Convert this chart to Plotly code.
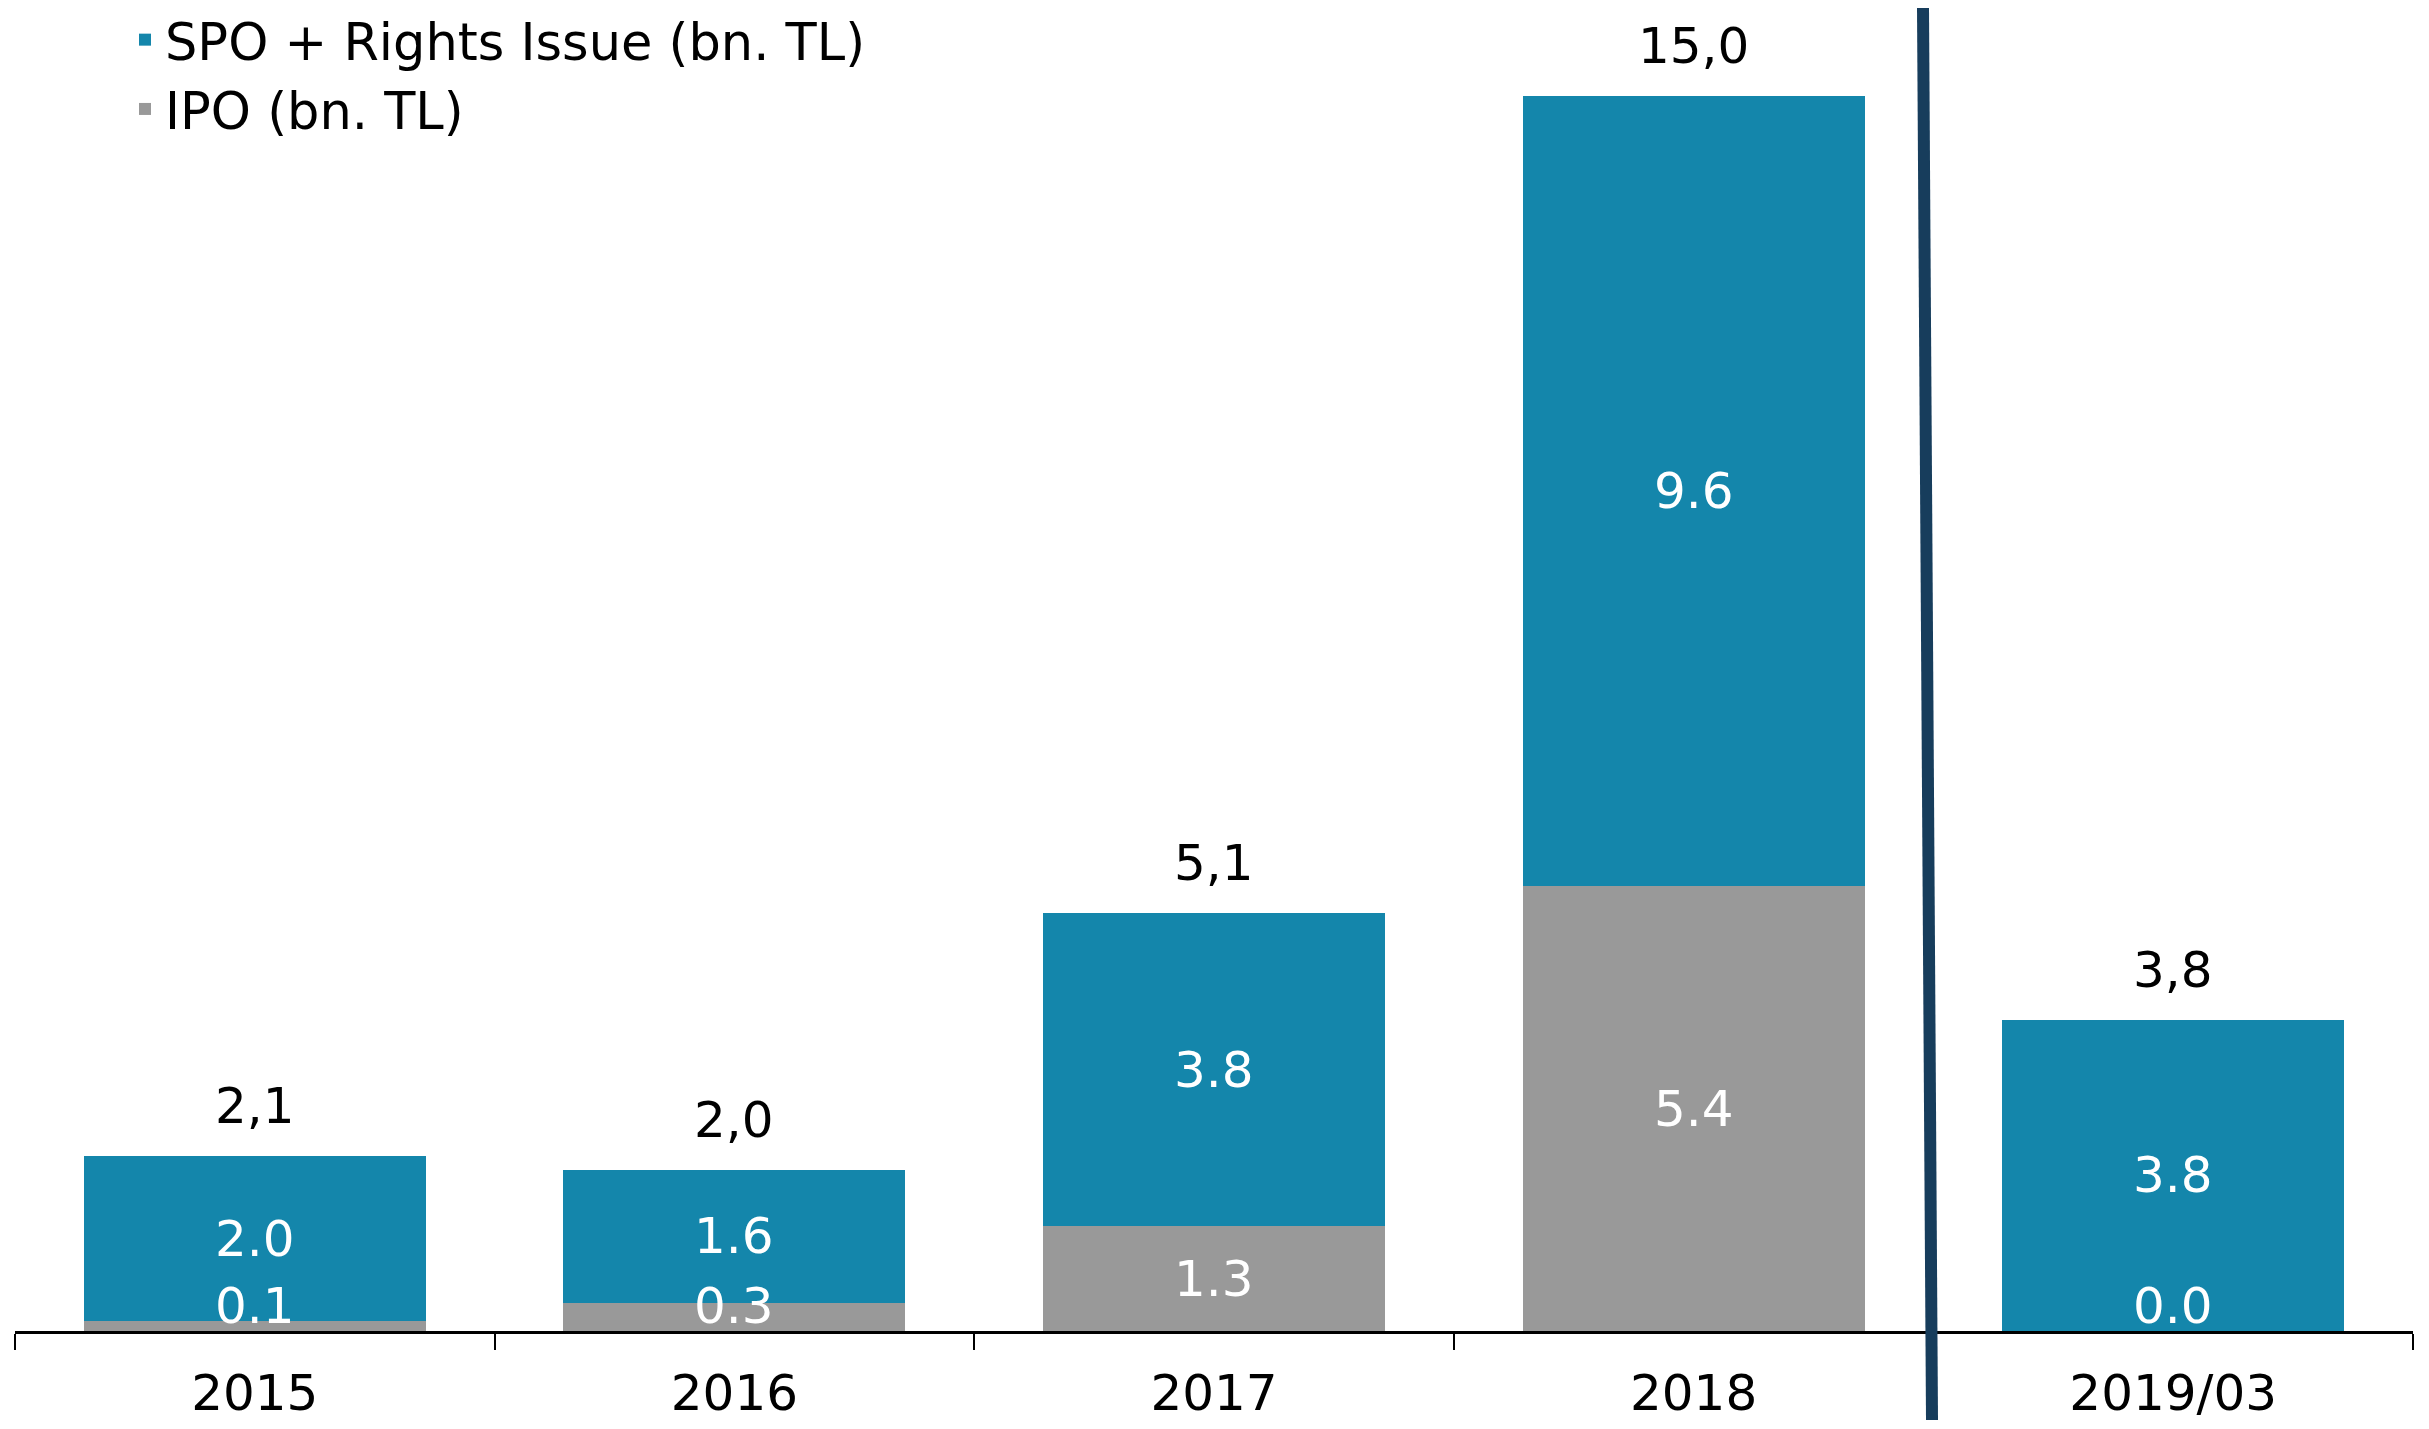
import plotly.graph_objects as go

# ---- data ----
categories = ["2015", "2016", "2017", "2018", "2019/03"]
ipo_values = [0.12, 0.34, 1.27, 5.40, 0.0]      # IPO (bn. TL)
spo_values = [2.00, 1.62, 3.80, 9.60, 3.78]     # SPO + Rights Issue (bn. TL)
ipo_name = "IPO (bn. TL)"
spo_name = "SPO + Rights Issue (bn. TL)"

# ---- style ----
TEAL = "#1486AB"
GRAY = "#999999"
NAVY = "#173D5C"
FONT = "Verdana, DejaVu Sans, sans-serif"
FS = 50

PAGE_OFF = 8                     # default body margin of the html page
W, H = 2429 - 2 * PAGE_OFF, 1429 - 2 * PAGE_OFF
ML, MR, MT, MB = 7, 8, 12, 90
plot_h = H - MT - MB
y_top = 15.92

fig = go.Figure()
fig.add_trace(go.Bar(x=categories, y=ipo_values, name=ipo_name,
                     marker=dict(color=GRAY, line=dict(width=0)),
                     hoverinfo="x+y"))
fig.add_trace(go.Bar(x=categories, y=spo_values, name=spo_name,
                     marker=dict(color=TEAL, line=dict(width=0)),
                     hoverinfo="x+y"))

annotations = []
min_mid = 0.30
for i, cat in enumerate(categories):
    ipo = ipo_values[i]
    spo = spo_values[i]
    total = ipo + spo
    # segment labels (white, centred in segment, kept off the axis)
    annotations.append(dict(x=i, y=max(ipo / 2, min_mid), xref="x", yref="y",
                            text=f"{ipo:.1f}", showarrow=False, yanchor="middle",
                            font=dict(color="white", size=FS, family=FONT)))
    annotations.append(dict(x=i, y=ipo + spo / 2, xref="x", yref="y",
                            text=f"{spo:.1f}", showarrow=False, yanchor="middle",
                            font=dict(color="white", size=FS, family=FONT)))
    # total label above the bar, decimal comma
    annotations.append(dict(x=i, y=total, xref="x", yref="y",
                            text=f"{total:.1f}".replace(".", ","), showarrow=False,
                            yanchor="middle", yshift=50,
                            font=dict(color="black", size=FS, family=FONT)))

# helpers: screen pixel -> paper coordinates
def px_to_paper_x(px):
    return (px - PAGE_OFF - ML) / (W - ML - MR)

def px_to_paper_y(py):
    return (H - MB - (py - PAGE_OFF)) / plot_h

# separator line between 2018 and 2019/03 (slightly slanted, beyond plot area)
shapes = [dict(type="line", xref="paper", yref="paper",
               x0=px_to_paper_x(1932), y0=px_to_paper_y(1420),
               x1=px_to_paper_x(1923), y1=px_to_paper_y(8),
               line=dict(color=NAVY, width=12), layer="above")]

fig.update_layout(
    width=W, height=H,
    margin=dict(l=ML, r=MR, t=MT, b=MB, autoexpand=False),
    barmode="stack", bargap=0.287,
    plot_bgcolor="white", paper_bgcolor="white",
    font=dict(family=FONT, size=FS, color="black"),
    showlegend=True,
    legend=dict(x=px_to_paper_x(125), y=px_to_paper_y(0), xanchor="left", yanchor="top",
                traceorder="reversed", font=dict(size=51, family=FONT, color="black"),
                bgcolor="rgba(0,0,0,0)", itemclick=False, itemdoubleclick=False),
    annotations=annotations,
    shapes=shapes,
    xaxis=dict(type="category", categoryorder="array", categoryarray=categories,
               range=[-0.5, len(categories) - 0.5],
               showline=True, linecolor="black", linewidth=3,
               ticks="outside", tickson="boundaries", ticklen=16, tickwidth=2,
               tickcolor="black", showgrid=False, zeroline=False, tickangle=0,
               tickfont=dict(size=FS, family=FONT, color="black"),
               ticklabelstandoff=16, fixedrange=True),
    yaxis=dict(range=[0, y_top], showgrid=False, zeroline=False, showline=False,
               showticklabels=False, ticks="", fixedrange=True),
)

fig.write_html("out.html", config={"displayModeBar": False})
